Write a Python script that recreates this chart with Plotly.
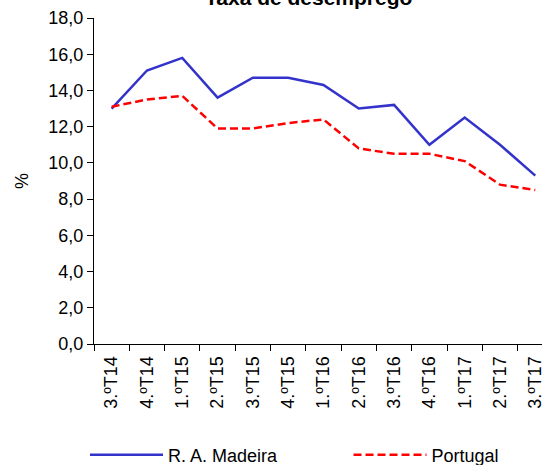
import plotly.graph_objects as go

categories = ["3.ºT14", "4.ºT14", "1.ºT15", "2.ºT15", "3.ºT15", "4.ºT15", "1.ºT16",
              "2.ºT16", "3.ºT16", "4.ºT16", "1.ºT17", "2.ºT17", "3.ºT17"]
madeira = [13.0, 15.1, 15.8, 13.6, 14.7, 14.7, 14.3, 13.0, 13.2, 11.0, 12.5, 11.0, 9.3]
portugal = [13.1, 13.5, 13.7, 11.9, 11.9, 12.2, 12.4, 10.8, 10.5, 10.5, 10.1, 8.8, 8.5]
y_ticks = [0, 2, 4, 6, 8, 10, 12, 14, 16, 18]

FONT = "Liberation Sans, Arial, sans-serif"

fig = go.Figure()
fig.add_trace(go.Scatter(x=categories, y=madeira, mode="lines", name="R. A. Madeira",
                         line=dict(color="#3333CC", width=2.5), legend="legend"))
fig.add_trace(go.Scatter(x=categories, y=portugal, mode="lines", name="Portugal",
                         line=dict(color="#FF0000", width=2.5, dash="8px,4px"),
                         legend="legend2"))

leg_common = dict(orientation="h", xref="container", yref="container", xanchor="left",
                  y=1 - 455 / 465, yanchor="middle",
                  itemwidth=73, font=dict(size=18), bgcolor="rgba(0,0,0,0)")

fig.update_layout(
    width=542, height=465,
    margin=dict(l=94, r=0, t=18, b=121),
    paper_bgcolor="white", plot_bgcolor="white",
    separators=", ",
    font=dict(family=FONT, size=18, color="black"),
    showlegend=True,
    legend=dict(x=85 / 542, **leg_common),
    legend2=dict(x=348.5 / 542, **leg_common),
    annotations=[dict(text="<b>Taxa de desemprego</b>", xref="paper", yref="paper",
                      x=0.478, y=1.0644, xanchor="center", yanchor="middle",
                      showarrow=False, font=dict(size=21, family=FONT, color="black"))],
)
fig.update_xaxes(type="category", range=[-0.5, 12.19], showline=True, linecolor="black",
                 linewidth=1, ticks="outside", tickson="boundaries", ticklen=6,
                 tickcolor="black", tickangle=-90, showgrid=False, zeroline=False,
                 tickfont=dict(size=18), ticklabelstandoff=4, automargin=False)
fig.update_yaxes(range=[0, 18], tickvals=y_ticks, tickformat=".1f", showline=True,
                 linecolor="black", linewidth=1, ticks="outside", ticklen=6,
                 tickcolor="black", showgrid=False, zeroline=False,
                 title=dict(text="%", font=dict(size=18), standoff=15),
                 tickfont=dict(size=18), automargin=False)

fig.write_html("out.html", config={"displayModeBar": False},
               post_script="document.body.style.margin='0';")
